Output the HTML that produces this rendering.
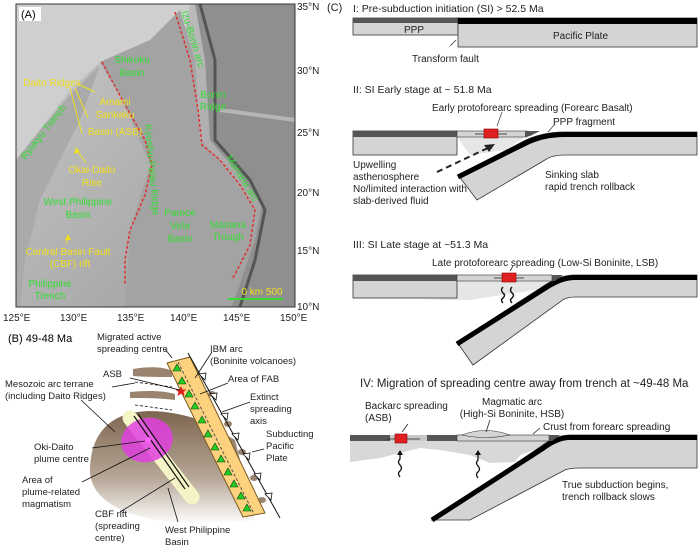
<!DOCTYPE html>
<html><head><meta charset="utf-8"><style>
html,body{margin:0;padding:0;background:#fff}
svg{display:block}
text{font-family:"Liberation Sans",Arial,sans-serif}
</style></head><body>
<svg width="700" height="550" viewBox="0 0 700 550" xmlns="http://www.w3.org/2000/svg">
<defs>
<linearGradient id="brown" x1="0" y1="0" x2="0" y2="1">
<stop offset="0" stop-color="#7d6650"/><stop offset="0.6" stop-color="#b8a898"/><stop offset="1" stop-color="#ffffff"/></linearGradient>
<linearGradient id="mapg" x1="0" y1="0" x2="1" y2="1">
<stop offset="0" stop-color="#c9c9c9"/><stop offset="1" stop-color="#9a9a9a"/></linearGradient>
</defs>

<!-- PANEL A map -->
<rect x="16" y="4" width="279" height="303" fill="url(#mapg)"/>
<path d="M16 4 H190 L185 30 L150 45 L120 55 L100 62 L70 90 L40 130 L16 160 Z" fill="#cfcfcf"/>
<path d="M16 160 L40 130 L70 95 L100 65 L80 120 L60 160 L40 200 L25 260 L20 307 H16Z" fill="#aaaaaa"/>
<path d="M100 62 L125 105 L150 165 L130 230 L125 307 H230 L250 245 L255 210 L220 160 L200 140 L195 60 L180 10 L150 40Z" fill="#a3a3a3"/>
<path d="M195 4 H295 V307 H232 L255 240 L262 205 L240 175 L210 140 L205 60Z" fill="#8f8f8f"/>
<path d="M200 4 L215 60 L215 140 L250 180 L265 210 L255 260 L240 307" stroke="#555" stroke-width="3" fill="none"/>
<path d="M220 110 L295 120" stroke="#b5b5b5" stroke-width="4" fill="none"/>
<rect x="16" y="4" width="279" height="303" fill="none" stroke="#333" stroke-width="1"/>
<path d="M102 62 L125 105 L145 140 L152 165 L145 195 L130 230 L125 260 L125 285" stroke="#e03030" stroke-width="1.5" stroke-dasharray="3,2" fill="none"/>
<path d="M175 12 L190 60 L198 110 L202 145 L220 160 L240 185 L255 210 L250 245 L232 280" stroke="#e03030" stroke-width="1.5" stroke-dasharray="3,2" fill="none"/>
<rect x="19" y="7" width="22" height="14" fill="#fff"/>
<text x="21" y="18" font-size="11">(A)</text>
<g font-size="10" fill="#33dd33" text-anchor="middle">
<text x="132" y="63">Shikoku</text><text x="132" y="76">Basin</text>
<text x="213" y="98">Bonin</text><text x="213" y="110">Ridge</text>
<text x="78" y="205">West Philippine</text><text x="78" y="218">Basin</text>
<text x="180" y="216">Parece</text><text x="180" y="229">Vela</text><text x="180" y="242">Basin</text>
<text x="228" y="228">Mariana</text><text x="228" y="240">Trough</text>
<text x="50" y="287">Philippine</text><text x="50" y="299">Trench</text>
<text transform="translate(190,40) rotate(73)">Izu-Bonin arc</text>
<text transform="translate(149,170) rotate(85)">Kyushu-Palau Ridge</text>
<text transform="translate(240,180) rotate(58)">Mariana arc</text>
<text transform="translate(46,134) rotate(-52)">Ryukyu Trench</text>
</g>
<g font-size="10" fill="#f0e020" text-anchor="middle">
<text x="52" y="86">Daito Ridges</text>
<text x="115" y="105">Amami</text><text x="115" y="118">Sankaku</text><text x="115" y="135">Basin (ASB)</text>
<text x="92" y="173">Okai-Daito</text><text x="92" y="186">Rise</text>
<text x="68" y="255">Central Basin Fault</text><text x="70" y="267">(CBF) rift</text>
<text x="262" y="295">0    km   500</text>
</g>
<g stroke="#f0e020" stroke-width="1" fill="none">
<path d="M70 88 L82 134 M75 88 L88 118 M78 84 L95 92"/>
<path d="M86 163 L76 149"/><path d="M66 244 L68 237"/>
</g>
<path d="M76 147 L74 154 L80 152Z M68 234 L65 240 L71 240Z" fill="#f0e020"/>
<line x1="228" y1="299" x2="283" y2="299" stroke="#33dd33" stroke-width="2"/>
<g font-size="10" fill="#222">
<text x="297" y="10">35°N</text><text x="297" y="74">30°N</text><text x="297" y="136">25°N</text>
<text x="297" y="196">20°N</text><text x="297" y="254">15°N</text><text x="297" y="310">10°N</text>
<text x="3" y="321">125°E</text><text x="60" y="321">130°E</text><text x="117" y="321">135°E</text>
<text x="170" y="321">140°E</text><text x="223" y="321">145°E</text><text x="280" y="321">150°E</text>
</g>

<!-- PANEL B -->
<text x="8" y="342" font-size="11">(B) 49-48 Ma</text>
<path d="M128 414 C100 422 90 445 90 472 C92 505 135 522 200 524 L255 520 L235 440 L200 420 C170 410 145 409 128 414Z" fill="url(#brown)"/>
<path d="M133 369 C150 366 165 367 172 371 L172 377 C160 377 145 377 133 376Z" fill="#9a8470"/>
<path d="M130 392 C150 390 165 391 175 394 L175 400 C160 398 145 398 130 398Z" fill="#9a8470"/>
<path d="M130 418 L192 497" stroke="#f4f4c6" stroke-width="15" stroke-linecap="round"/>
<ellipse cx="147" cy="440" rx="26" ry="22" transform="rotate(-15 147 440)" fill="#e040e0" opacity="0.85"/>
<path d="M134 416 L185 489 M138 414 L189 487" stroke="#111" stroke-width="1.2"/>
<circle cx="148" cy="440" r="3" fill="#ff60ff"/>
<g fill="#9a8470">
<ellipse cx="212" cy="394" rx="4" ry="3"/><ellipse cx="228" cy="424" rx="4" ry="3"/><ellipse cx="242" cy="452" rx="4" ry="3"/><ellipse cx="254" cy="478" rx="4" ry="3"/><ellipse cx="262" cy="500" rx="4" ry="3"/>
</g>
<path d="M167 363 L190 357 L265 513 L243 517Z" fill="#fdd27e" stroke="#7a5a20" stroke-width="1"/>
<path d="M178 362 L254 514" stroke="#555" stroke-dasharray="3,2"/>
<path d="M188 353 L280 518" stroke="#111" stroke-width="1"/>
<g fill="#fff" stroke="#111" stroke-width="0.8">
<path d="M199 374 l7 -1 l-1 7z M210 394 l7 -1 l-1 7z M221 414 l7 -1 l-1 7z M232 434 l7 -1 l-1 7z M243 454 l7 -1 l-1 7z M254 474 l7 -1 l-1 7z M265 494 l7 -1 l-1 7z"/>
</g>
<g fill="#22cc22" stroke="#114411" stroke-width="0.6">
<path d="M177 364 l4 7 h-8z M182 377 l4 7 h-8z M189 390 l4 7 h-8z M195 402 l4 7 h-8z M202 416 l4 7 h-8z M208 430 l4 7 h-8z M215 443 l4 7 h-8z M221 455 l4 7 h-8z M228 468 l4 7 h-8z M234 480 l4 7 h-8z M241 492 l4 7 h-8z M247 504 l4 7 h-8z"/>
</g>
<path d="M181 386 l1.5 3.5 l4 0 l-3 2.5 l1 4 l-3.5 -2.2 l-3.5 2.2 l1 -4 l-3 -2.5 l4 0z" fill="#e02020"/>
<g stroke="#111" stroke-width="0.8" fill="none">
<path d="M165 349 L172 358 M212 352 L195 378 M228 383 L200 394 M250 402 L222 412 M264 449 L252 452 M130 378 L180 390 M112 387 L135 383 M81 400 L115 432"/>
<path d="M92 448 L145 441 M82 482 L150 448 M120 512 L175 478 M178 522 L168 488"/>
<path d="M135 382 L172 387 M135 405 L172 410" stroke-dasharray="3,2"/>
</g>
<g font-size="9.5" fill="#222">
<text x="97" y="340">Migrated active</text><text x="97" y="352">spreading centre</text>
<text x="210" y="352">IBM arc</text><text x="210" y="364">(Boninite volcanoes)</text>
<text x="103" y="377">ASB</text>
<text x="5" y="387">Mesozoic arc terrane</text><text x="5" y="399">(including Daito Ridges)</text>
<text x="228" y="382">Area of FAB</text>
<text x="250" y="400">Extinct</text><text x="250" y="412">spreading</text><text x="250" y="424">axis</text>
<text x="266" y="437">Subducting</text><text x="266" y="449">Pacific</text><text x="266" y="461">Plate</text>
<text x="34" y="450">Oki-Daito</text><text x="34" y="462">plume centre</text>
<text x="22" y="483">Area of</text><text x="22" y="495">plume-related</text><text x="22" y="507">magmatism</text>
<text x="95" y="517">CBF rift</text><text x="95" y="529">(spreading</text><text x="95" y="541">centre)</text>
<text x="165" y="533">West Philippine</text><text x="165" y="545">Basin</text>
</g>

<!-- PANEL C -->
<g font-size="10.5" fill="#222">
<text x="327" y="11" font-size="11">(C)</text>
<text x="353" y="12">I: Pre-subduction initiation (SI) &gt; 52.5 Ma</text>
<text x="353" y="93">II: SI Early stage at ~ 51.8 Ma</text>
<text x="353" y="248">III: SI Late stage at ~51.3 Ma</text>
<text x="360" y="387" font-size="11.5">IV: Migration of spreading centre away from trench at ~49-48 Ma</text>
</g>
<!-- I -->
<rect x="353" y="18" width="105" height="17" fill="#d4d4d4" stroke="#333" stroke-width="0.8"/>
<rect x="353" y="18" width="105" height="5" fill="#555"/>
<rect x="458" y="18" width="239" height="29" fill="#d4d4d4" stroke="#333" stroke-width="0.8"/>
<rect x="458" y="18" width="239" height="6" fill="#000"/>
<path d="M456 40 L450 46" stroke="#333" stroke-width="0.8"/>
<g font-size="10" fill="#222">
<text x="404" y="33">PPP</text><text x="553" y="39">Pacific Plate</text><text x="412" y="62">Transform fault</text>
</g>
<!-- II -->
<path d="M457 137 L525 137 L505 150 L470 155Z" fill="#e6e6e6"/>
<rect x="353" y="131" width="104" height="24" fill="#d4d4d4" stroke="#333" stroke-width="0.8"/>
<rect x="353" y="131" width="104" height="6" fill="#555"/>
<rect x="457" y="131" width="70" height="6" fill="#d4d4d4" stroke="#333" stroke-width="0.6"/>
<path d="M697 132 L565 132 Q540 132 522 142 L458 175 L477 200 L545 160 Q552 155 565 155 L697 155Z" fill="#d4d4d4" stroke="#333" stroke-width="0.8"/>
<path d="M697 134.5 L565 134.5 Q542 134.5 524 144 L458 177" stroke="#000" stroke-width="5" fill="none"/>
<path d="M525 131 L540 131 L530 136 L525 137Z" fill="#555"/>
<rect x="484" y="129" width="14" height="9" fill="#e02020" stroke="#800" stroke-width="0.6"/>
<path d="M475 134 L484 134 M498 134 L507 134" stroke="#222" stroke-width="0.8"/>
<path d="M437 172 L490 147" stroke="#222" stroke-width="2" stroke-dasharray="6,4"/>
<path d="M495 144 L484 145 L489 152Z" fill="#222"/>
<path d="M497 126 L502 112 M555 124 L548 132" stroke="#333" stroke-width="0.7"/>
<g font-size="10" fill="#222">
<text x="432" y="111">Early protoforearc spreading (Forearc Basalt)</text>
<text x="553" y="125">PPP fragment</text>
<text x="353" y="168">Upwelling</text><text x="353" y="180">asthenosphere</text>
<text x="353" y="192">No/limited interaction with</text><text x="353" y="204">slab-derived fluid</text>
<text x="545" y="178">Sinking slab</text><text x="545" y="190">rapid trench rollback</text>
</g>
<!-- III -->
<path d="M457 281 L552 281 L535 290 L470 300 L420 300 L457 298Z" fill="#e6e6e6"/>
<rect x="353" y="275" width="104" height="23" fill="#d4d4d4" stroke="#333" stroke-width="0.8"/>
<rect x="353" y="275" width="104" height="6" fill="#555"/>
<rect x="457" y="275" width="95" height="6" fill="#d4d4d4" stroke="#333" stroke-width="0.6"/>
<path d="M697 275 L575 275 Q560 275 545 285 L457 342 L473 365 L560 302 Q565 297 575 297 L697 297Z" fill="#d4d4d4" stroke="#333" stroke-width="0.8"/>
<path d="M697 277.5 L575 277.5 Q562 277.5 547 287 L457 344" stroke="#000" stroke-width="5" fill="none"/>
<path d="M552 275 L563 275 L555 281 L552 281Z" fill="#555"/>
<rect x="502" y="273" width="14" height="9" fill="#e02020" stroke="#800" stroke-width="0.6"/>
<path d="M494 278 L502 278 M516 278 L524 278 M510 271 L513 266" stroke="#222" stroke-width="0.8"/>
<path d="M503 303 q-3 -3 0 -5 q3 -3 0 -5 q-3 -3 0 -6 M512 303 q-3 -3 0 -5 q3 -3 0 -5 q-3 -3 0 -6" stroke="#111" stroke-width="1.4" fill="none"/>
<text x="432" y="266" font-size="10" fill="#222">Late protoforearc spreading (Low-Si Boninite, LSB)</text>
<!-- IV -->
<path d="M350 441 L560 441 L520 455 L515 462 L490 463 L470 455 L440 450 L420 448 L380 458 L350 462Z" fill="#d8d8d8"/>
<rect x="350" y="435" width="40" height="6" fill="#555"/>
<rect x="427" y="435" width="30" height="6" fill="#555"/>
<rect x="390" y="435" width="37" height="6" fill="#c8c8c8"/>
<rect x="457" y="435" width="92" height="6" fill="#d4d4d4" stroke="#333" stroke-width="0.6"/>
<path d="M462 435 Q485 426 510 435 Q485 440 462 435Z" fill="#d4d4d4" stroke="#333" stroke-width="0.6"/>
<path d="M697 435 L570 435 Q555 435 540 447 L432 520 L470 520 L565 470 Q570 468 580 468 L697 468Z" fill="#d4d4d4" stroke="#333" stroke-width="0.8"/>
<path d="M697 437.5 L570 437.5 Q557 437.5 542 449 L432 520" stroke="#000" stroke-width="5" fill="none"/>
<path d="M549 435 L560 435 L552 441 L549 441Z" fill="#555"/>
<rect x="395" y="434" width="12" height="9" fill="#e02020" stroke="#800" stroke-width="0.6"/>
<path d="M387 439 L395 439 M407 439 L420 439 M402 432 L408 424 M486 432 L490 420 M533 434 L540 428" stroke="#222" stroke-width="0.8"/>
<path d="M400 477 q-3 -4 0 -6 q3 -3 0 -6 q-3 -3 0 -6 L400 452 M478 478 q-3 -4 0 -6 q3 -3 0 -6 q-3 -3 0 -6 L478 452" stroke="#111" stroke-width="1.3" fill="none"/>
<path d="M400 450 l-3 5 h6z M478 450 l-3 5 h6z" fill="#111"/>
<g font-size="10" fill="#222">
<text x="365" y="409">Backarc spreading</text><text x="365" y="421">(ASB)</text>
<text x="512" y="405" text-anchor="middle">Magmatic arc</text>
<text x="512" y="417" text-anchor="middle">(High-Si Boninite, HSB)</text>
<text x="543" y="430">Crust from forearc spreading</text>
<text x="562" y="488">True subduction begins,</text><text x="562" y="500">trench rollback slows</text>
</g>
</svg>
</body></html>
